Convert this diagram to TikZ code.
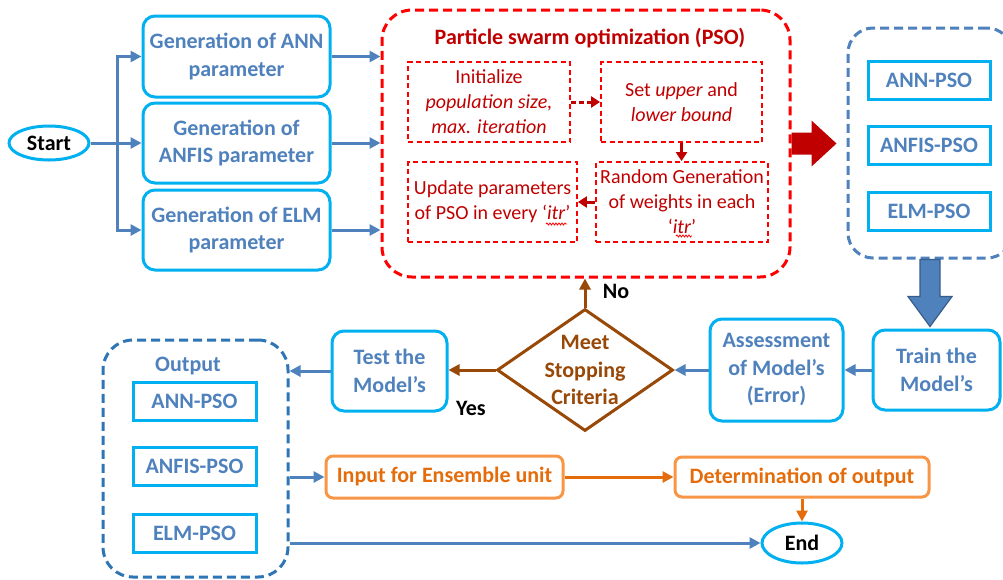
\documentclass[tikz,border=0pt]{standalone}
\usepackage{fontspec}
\setmainfont{Carlito}
\usetikzlibrary{arrows.meta,shapes.geometric,calc,decorations.pathmorphing}
\definecolor{cyanb}{HTML}{00B0F0}
\definecolor{steel}{HTML}{4F81BD}
\definecolor{steeld}{HTML}{385D8A}
\definecolor{dred}{HTML}{C00000}
\definecolor{bred}{HTML}{FF0000}
\definecolor{brownc}{HTML}{984807}
\definecolor{orangeb}{HTML}{F79646}
\definecolor{oranget}{HTML}{E46C0A}
\definecolor{dashblue}{HTML}{2E75B6}
\tikzset{
  x=1pt,y=-1pt,
  bigfont/.style={font=\bfseries\fontsize{22}{27.5}\selectfont},
  genbox/.style={draw=cyanb,line width=3pt,rounded corners=12pt,text=steel,bigfont,align=center,inner sep=0pt},
  modbox/.style={draw=cyanb,line width=3pt,text=steel,bigfont,align=center,inner sep=0pt,minimum width=122pt,minimum height=38pt},
  psobox/.style={draw=bred,line width=1.8pt,dash pattern=on 5pt off 3.5pt,text=dred,font=\fontsize{20}{25}\selectfont,align=center,inner sep=0pt},
  term/.style={ellipse,draw=cyanb,line width=3pt,text=black,bigfont,inner sep=0pt},
  obox/.style={draw=orangeb,line width=3pt,rounded corners=7pt,text=oranget,bigfont,inner sep=0pt},
  barrow/.style={draw=steel,line width=3pt,-{Triangle[length=11pt,width=11pt]}},
  bline/.style={draw=steel,line width=3pt},
  brarrow/.style={draw=brownc,line width=3pt,-{Triangle[length=11pt,width=11pt]}},
  rarrow/.style={draw=dred,line width=3pt,-{Triangle[length=9pt,width=11pt]}},
  oarrow/.style={draw=oranget,line width=3pt,-{Triangle[length=11pt,width=11pt]}},
  squig/.style={draw=bred,line width=0.8pt,decorate,decoration={snake,segment length=3pt,amplitude=1pt}},
}
\begin{document}
\begin{tikzpicture}
\useasboundingbox (0,0) rectangle (1003,579);
\fill[white] (0,0) rectangle (1003,579);

% start
\node[term,minimum width=80pt,minimum height=34pt] (start) at (49,143) {Start};
% generation boxes
\node[genbox,minimum width=187pt,minimum height=81pt] (gann) at (236.5,56.5) {Generation of ANN\\parameter};
\node[genbox,minimum width=187pt,minimum height=80pt] (ganfis) at (236.5,143) {Generation of\\ANFIS parameter};
\node[genbox,minimum width=187pt,minimum height=80pt] (gelm) at (236.5,230) {Generation of ELM\\parameter};
\coordinate (br) at (117,143);
\draw[bline] (start.east) -- (br);
\draw[barrow] (br) |- (gann.west);
\draw[barrow] (br) -- (ganfis.west);
\draw[barrow] (br) |- (gelm.west);

% PSO container
\node[draw=bred,line width=3pt,dash pattern=on 9pt off 5pt,rounded corners=30pt,minimum width=408pt,minimum height=267pt,inner sep=0pt] (pso) at (586,143.5) {};
\node[text=dred,font=\bfseries\fontsize{22}{26}\selectfont] (psot) at (590,38) {Particle swarm optimization (PSO)};
\draw[barrow] (gann.east) -- (gann.east -| pso.west);
\draw[barrow] (ganfis.east) -- (ganfis.east -| pso.west);
\draw[barrow] (gelm.east) -- (gelm.east -| pso.west);

\node[psobox,minimum width=162pt,minimum height=80pt] (init) at (489,102) {Initialize\\\textit{population size,}\\\textit{max. iteration}};
\node[psobox,minimum width=161pt,minimum height=80pt] (setb) at (681.5,102) {Set \textit{upper} and\\\textit{lower bound}};
\node[psobox,minimum width=172pt,minimum height=80pt] (rand) at (682,202) {Random Generation\\of weights in each\\‘\textit{itr}’};
\node[psobox,minimum width=169pt,minimum height=80pt] (upd) at (492.5,202) {Update parameters\\of PSO in every ‘\textit{itr}’};
\draw[rarrow,dash pattern=on 5pt off 3pt] (init.east) -- (setb.west);
\draw[rarrow] (setb.south) -- (setb.south |- rand.north);
\draw[rarrow] (rand.west) -- (upd.east);
\coordinate (sq1a) at (546,224);
\coordinate (sq1b) at (567,224);
\coordinate (sq2a) at (676,236);
\coordinate (sq2b) at (692,236);
\draw[squig] (sq1a) -- (sq1b);
\draw[squig] (sq2a) -- (sq2b);

% big red arrow
\fill[dred] (pso.east) ++(0,-11) -- ++(20,0) -- ++(0,-12) -- ++(25,23) -- ++(-25,23) -- ++(0,-12) -- ++(-20,0) -- cycle;

% models container
\node[draw=steel,line width=3pt,dash pattern=on 9pt off 5pt,rounded corners=25pt,minimum width=164pt,minimum height=230pt,inner sep=0pt] (models) at (930,143) {};
\node[modbox] (m1) at (929,80) {ANN-PSO};
\node[modbox] (m2) at (929,145) {ANFIS-PSO};
\node[modbox] (m3) at (929,211) {ELM-PSO};

% big blue down arrow
\filldraw[fill=steel,draw=steeld,line width=1.2pt] (models.south) ++(-10,0) -- ++(0,37) -- ++(-12,0) -- ++(22,30) -- ++(22,-30) -- ++(-12,0) -- ++(0,-37) -- cycle;

% lower row
\node[genbox,minimum width=127pt,minimum height=80pt] (train) at (936.5,370) {Train the\\Model’s};
\node[genbox,minimum width=133pt,minimum height=102pt] (assess) at (776.5,370) {Assessment\\of Model’s\\(Error)};
\node[diamond,draw=brownc,line width=3pt,minimum width=176pt,minimum height=122pt,inner sep=0pt] (dia) at (585,370) {};
\node[text=brownc,bigfont,align=center] (diat) at (dia.center) {Meet\\Stopping\\Criteria};
\node[genbox,minimum width=115pt,minimum height=80pt] (test) at (389.5,371) {Test the\\Model’s};

\draw[barrow] (train.west) -- (train.west -| assess.east);
\draw[barrow] (assess.west) -- (dia.east);
\draw[brarrow] (dia.north) -- (dia.north |- pso.south);
\node[bigfont,text=black] (no) at (616,291) {No};
\draw[brarrow] (dia.west) -- (dia.west -| test.east);
\node[bigfont,text=black] (yes) at (471,408) {Yes};

% output container
\node[draw=dashblue,line width=3pt,dash pattern=on 9pt off 5pt,rounded corners=30pt,minimum width=185pt,minimum height=237pt,inner sep=0pt] (out) at (195.5,458.5) {};
\node[text=steel,bigfont] (outt) at (188,366) {Output};
\node[modbox,minimum width=123pt] (o1) at (194.5,401) {ANN-PSO};
\node[modbox,minimum width=123pt] (o2) at (194.5,466) {ANFIS-PSO};
\node[modbox,minimum width=123pt] (o3) at (194.5,533) {ELM-PSO};
\draw[barrow] (test.west) -- (test.west -| out.east);

\node[obox,minimum width=237pt,minimum height=42pt] (inp) at (444.5,477) {Input for Ensemble unit};
\node[obox,minimum width=254pt,minimum height=40pt] (det) at (802,477) {Determination of output};
\node[term,minimum width=80pt,minimum height=40pt] (end) at (802,543) {End};
\draw[barrow] (out.east |- inp.west) -- (inp.west);
\draw[oarrow] (inp.east) -- (det.west);
\draw[oarrow] (det.south) -- (end.north);
\draw[barrow] (out.east |- end.west) -- (end.west);
\end{tikzpicture}
\end{document}
